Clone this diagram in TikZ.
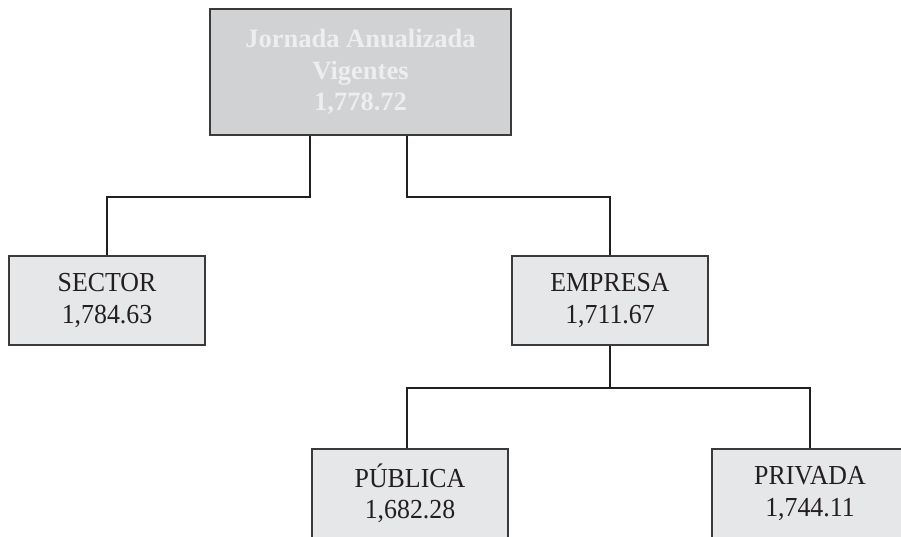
\documentclass[tikz,border=0pt]{standalone}
\usepackage{fontspec}
\setmainfont{Liberation Serif}
\newfontfamily\leaffont{Liberation Serif}[FakeStretch=0.94]
\definecolor{topfill}{HTML}{D1D2D4}
\definecolor{topink}{HTML}{EEEEEF}
\definecolor{boxfill}{HTML}{E6E7E8}
\definecolor{boxline}{HTML}{3A3A3A}
\definecolor{wire}{HTML}{231F20}
\tikzset{
  headbox/.style={draw=boxline, line width=1.6pt, fill=topfill, text=topink,
    minimum width=301pt, minimum height=126pt, inner sep=0pt, align=center,
    font=\fontsize{26.5}{31.5}\selectfont\bfseries},
  leafbox/.style={draw=boxline, line width=1.1pt, fill=boxfill, text=wire,
    minimum width=196pt, minimum height=89pt, inner sep=0pt, align=center,
    font=\leaffont\fontsize{27.5}{31.6}\selectfont},
  wireline/.style={draw=wire, line width=2pt}
}
\begin{document}
\begin{tikzpicture}[x=1pt,y=-1pt]
\useasboundingbox (0,0) rectangle (901,536);
\clip (0,0) rectangle (901,536);
\node[headbox] (top) at (360.5,72) {Jornada Anualizada\\Vigentes\\1,778.72};
\node[leafbox] (sector) at (107,300.5) {SECTOR\\1,784.63};
\node[leafbox] (empresa) at (610,300.5) {EMPRESA\\1,711.67};
\node[leafbox] (publica) at (410,493.5) {PÚBLICA\\1,682.28};
\node[leafbox] (privada) at (810,493.5) {PRIVADA\\1,744.11};
\draw[wireline] ([xshift=-50.5pt]top.south) -- ++(0,61) -| (sector.north);
\draw[wireline] ([xshift=46.5pt]top.south) -- ++(0,61) -| (empresa.north);
\draw[wireline] (empresa.south) -- ++(0,42) coordinate (j);
\draw[wireline] ([xshift=-3pt]publica.north) |- (j) -| (privada.north);
\end{tikzpicture}
\end{document}
